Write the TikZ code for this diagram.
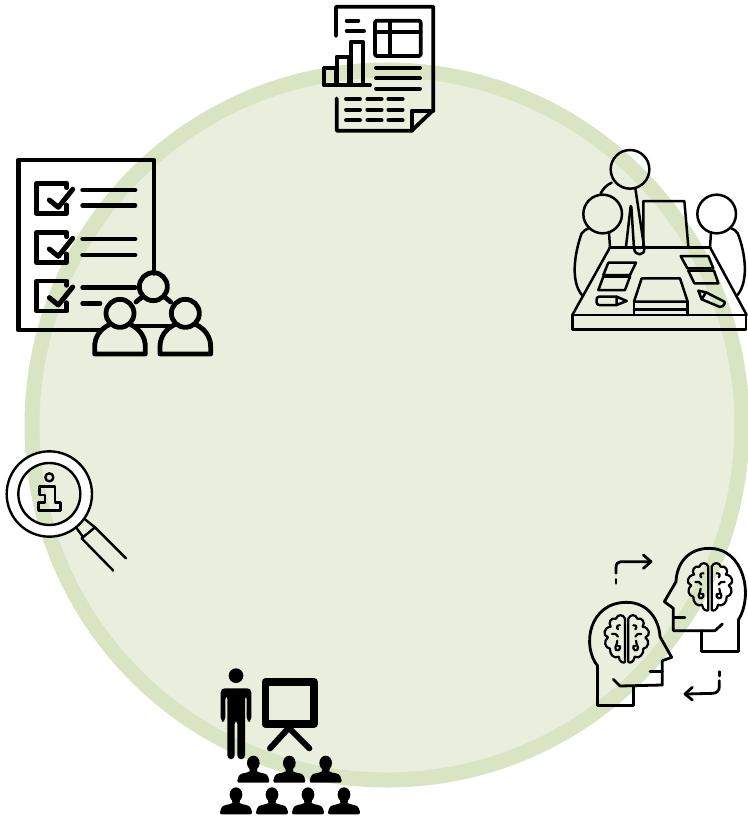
\documentclass[tikz,border=0pt]{standalone}
\usetikzlibrary{arrows.meta}
\definecolor{ringfill}{HTML}{E9EEDD}
\definecolor{ringline}{HTML}{D8E4C2}
\tikzset{
  ln/.style={draw=black,line width=#1,line cap=round,line join=round},
  ln/.default=1.1pt,
  zoomed/.style={shift={#1},scale=1/3}
}
\newcommand{\brainicon}[2]{%
  \begin{scope}[shift={(#1,#2)},ln=2.2pt]
    \foreach \sx in {1,-1}{
      \begin{scope}[xscale=\sx]
        \draw (5,78) -- (5,-52) .. controls (10,-66) and (28,-66) .. (32,-52)
          .. controls (48,-56) and (56,-40) .. (48,-28)
          .. controls (68,-26) and (74,-2) .. (56,4)
          .. controls (70,14) and (66,36) .. (50,38)
          .. controls (52,56) and (36,70) .. (24,62)
          .. controls (22,80) and (8,82) .. (5,78);
        \draw (20,-32) .. controls (28,-34) and (32,-26) .. (26,-20);
        \draw (44,-6) .. controls (34,-8) and (28,-4) .. (26,2);
        \draw (26,30) .. controls (14,24) and (20,50) .. (32,42) .. controls (36,38) and (34,32) .. (30,24) -- (28,14);
      \end{scope}
    }
  \end{scope}}
\newcommand{\audience}[2]{%
  \fill[shift={(#1,#2)}] (0,-28) ellipse (19 and 22)
    (-12,-14) -- (12,-14) -- (11,-3) .. controls (20,4) and (40,0) .. (44,12)
    -- (48,24) .. controls (48,30) and (46,31) .. (42,31) -- (-42,31)
    .. controls (-46,31) and (-48,30) .. (-48,24) -- (-44,12)
    .. controls (-40,0) and (-20,4) .. (-11,-3) -- cycle;}
\newcommand{\groupperson}[2]{%
  \begin{scope}[shift={(#1,#2)}]
    \draw (0,0) circle (42);
    \draw (-32,34) .. controls (-58,46) and (-76,70) .. (-76,100) -- (-76,122) -- (76,122) -- (76,100)
      .. controls (76,70) and (58,46) .. (32,34);
  \end{scope}}
\newcommand{\checkrow}[1]{%
  \begin{scope}[shift={(0,#1)}]
    \draw (200,113) -- (200,100) -- (110,100) -- (110,190) -- (200,190) -- (200,165);
    \draw[line width=5pt] (148,150) -- (175,172) -- (218,118);
  \end{scope}}
\begin{document}
\begin{tikzpicture}[x=1pt,y=-1pt]
\useasboundingbox (0,0) rectangle (747,816);
% background disc
\draw[fill=ringfill,draw=ringline,line width=15pt] (387,425) circle (355);

% report
\begin{scope}[zoomed={(310,0)},ln=3.8pt]
  \draw (78,108) -- (78,20) -- (370,20) -- (370,330) -- (305,392) -- (80,392) -- (80,295);
  \draw (370,332) -- (305,332) -- (305,392);
  \draw (110,62) -- (145,62) (110,93) -- (162,93);
  \draw[rounded corners=2pt] (195,62) rectangle (332,168);
  \draw (195,95) -- (332,95) (240,62) -- (240,168);
  \draw (42,255) -- (42,205) -- (78,205) -- (78,255);
  \draw (80,255) -- (80,170) -- (118,170) -- (118,255);
  \draw (122,255) -- (122,125) -- (158,125) -- (158,255);
  \draw (42,255) -- (180,255);
  \draw (198,203) -- (330,203) (198,235) -- (330,235) (198,266) -- (330,266);
  \foreach \yy in {297,329,361}{
    \draw (108,\yy) -- (150,\yy) (172,\yy) -- (215,\yy) (235,\yy) -- (278,\yy);
  }
\end{scope}

% checklist and group
\begin{scope}[zoomed={(0,150)},ln=4.8pt]
  \draw (462,370) -- (462,30) -- (55,30) -- (55,540) -- (300,540);
  \checkrow{0}
  \checkrow{147}
  \checkrow{293}
  \draw (248,120) -- (405,120) (248,167) -- (405,167);
  \draw (248,267) -- (405,267) (248,315) -- (405,315);
  \draw (248,413) -- (405,413) (248,460) -- (300,460);
  \draw (460,410) circle (42);
  \draw (428,440) .. controls (420,445) and (415,450) .. (408,456);
  \draw (492,440) .. controls (500,445) and (505,450) .. (512,456);
  \draw (405,528) -- (510,528);
  \groupperson{360}{490}
  \groupperson{556}{490}
\end{scope}

% meeting
\begin{scope}[zoomed={(560,140)},ln=2.5pt]
  \draw (210,88) circle (58);
  \draw (128,222) circle (58);
  \draw (470,222) circle (58);
  \draw (250,320) -- (250,183) -- (373,183) -- (385,320);
  \draw (150,322) -- (450,322);
  \draw (150,322) -- (37,525) (450,322) -- (560,525);
  \draw (37,525) rectangle (558,568);
  \draw (88,264) .. controls (78,268) and (70,272) .. (65,280) .. controls (50,320) and (25,420) .. (68,468);
  \draw (512,264) .. controls (522,268) and (528,272) .. (533,280) .. controls (550,320) and (573,420) .. (530,468);
  \draw (147,278) -- (150,322) (453,278) -- (450,322);
  \draw (122,160) .. controls (130,145) and (140,135) .. (155,128);
  \draw (212,198) -- (198,320);
  \draw (226,145) -- (253,325) .. controls (255,348) and (225,350) .. (222,325) -- (214,200);
  \draw (145,368) -- (228,368) -- (210,405) -- (130,405) -- cycle;
  \draw (130,410) -- (210,410) -- (195,450) -- (115,450) -- cycle;
  \draw (362,348) -- (445,348) -- (460,385) -- (382,385) -- cycle;
  \draw (385,392) -- (462,392) -- (475,430) -- (403,430) -- cycle;
  \draw[rounded corners=2.5pt] (170,470) -- (110,470) -- (110,495) -- (170,495);
  \draw (170,470) -- (200,483) -- (170,495) -- cycle;
  \draw[rounded corners=2pt] (438,457) -- (497,487) -- (485,503) -- (425,478);
  \draw (438,457) -- (415,452) -- (425,478) -- cycle;
  \draw (245,415) -- (360,415) -- (383,485) -- (222,485) -- cycle;
  \draw (222,485) -- (222,525) (383,485) -- (383,525);
  \draw (222,508) -- (383,508);
\end{scope}

% magnifier
\begin{scope}[zoomed={(0,440)},ln=2.4pt]
  \draw[fill=white,even odd rule] (148,162) circle (128) (148,162) circle (93);
  \draw (148,112) circle (12);
  \draw (118,140) -- (165,140) -- (165,188) -- (182,188) -- (182,212) -- (115,212) -- (115,188) -- (135,188) -- (135,165) -- (118,165) -- cycle;
  \draw (228,262) -- (250,292) (245,295) -- (285,262) (255,238) -- (285,262);
  \draw (285,262) -- (378,355) (245,295) -- (340,392);
\end{scope}

% exchange of ideas
\begin{scope}[zoomed={(575,540)},ln=2.8pt]
  \draw (68,378) .. controls (20,320) and (40,187) .. (155,187)
    .. controls (220,187) and (252,240) .. (255,290) -- (290,352) -- (262,362)
    -- (262,435) -- (135,438) -- (115,418);
  \draw (175,440) -- (175,497) -- (68,497) -- (68,378);
  \draw (225,395) -- (262,395);
  \brainicon{155}{288}
  \draw (490,240) .. controls (535,170) and (510,25) .. (402,25)
    .. controls (340,25) and (305,70) .. (303,125) -- (268,185) -- (295,205)
    -- (295,272) -- (420,272) -- (442,252);
  \draw (380,272) -- (380,335) -- (490,335) -- (490,240);
  \draw (295,233) -- (330,233);
  \brainicon{405}{132}
  \draw (123,118) -- (123,130);
  \draw (123,100) -- (123,82) .. controls (123,70) and (130,65) .. (142,65) -- (225,65);
  \draw (205,45) -- (228,65) -- (205,85);
  \draw (433,395) -- (433,408);
  \draw (433,422) -- (433,440) .. controls (433,452) and (425,460) .. (412,460) -- (335,462);
  \draw (352,442) -- (330,462) -- (352,480);
\end{scope}

% presentation
\begin{scope}[zoomed={(210,660)}]
  \fill (78,47) circle (22);
  \fill[rounded corners=4pt] (32,185) -- (32,85) -- (124,85) -- (124,185) -- (110,185) -- (110,105) -- (105,105)
    -- (105,298) -- (82,298) -- (82,180) -- (74,180) -- (74,298) -- (52,298) -- (52,105) -- (46,105) -- (46,185) -- cycle;
  \draw[line width=7.5pt,line join=round] (166,66) rectangle (312,192);
  \draw[line width=6pt,line cap=round] (235,205) -- (180,265) (238,205) -- (298,265);
  \foreach \xx in {130,238,347}{\audience{\xx}{337}}
  \foreach \xx in {78,186,294,402}{\audience{\xx}{432}}
\end{scope}
\end{tikzpicture}
\end{document}
